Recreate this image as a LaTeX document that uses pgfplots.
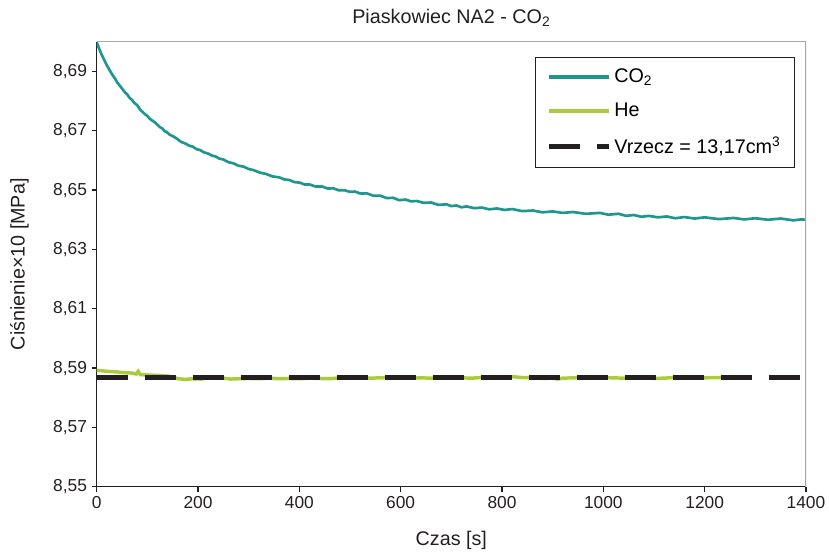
\documentclass[border=0pt]{standalone}
\usepackage{pgfplots}
\pgfplotsset{compat=1.18}
\usepackage{fontspec}
\setmainfont{Liberation Sans}
\definecolor{co2c}{HTML}{1F978E}
\definecolor{hec}{HTML}{A9CC3C}
\definecolor{axc}{HTML}{231F20}
\begin{document}
\begin{tikzpicture}[x=1pt,y=1pt]
\useasboundingbox (-72.5,-49.7) rectangle (549.25,365.05);
\begin{axis}[
  at={(0,0)}, anchor=south west,
  scale only axis, width=532pt, height=333.75pt,
  xmin=0, xmax=1400, ymin=8.55, ymax=8.70,
  xtick={0,200,...,1400},
  ytick={8.55,8.57,8.59,8.61,8.63,8.65,8.67,8.69},
  axis x line*=bottom, axis y line*=left,
  axis line style={axc, line width=0.9pt},
  every outer x axis line/.append style={-}, every outer y axis line/.append style={-},
  tick align=outside, major tick length=3.75pt,
  tick style={axc, line width=0.9pt},
  font=\fontsize{14.8}{17}\selectfont,
  ticklabel style={font=\fontsize{13}{15}\selectfont, text=axc},
  /pgf/number format/assume math mode=true,
  yticklabel style={/pgf/number format/.cd, fixed, fixed zerofill, precision=2, use comma},
  xticklabel style={/pgf/number format/1000 sep={}},
  title={Piaskowiec NA2 - CO\textsubscript{2}},
  every axis title/.style={at={(axis description cs:0.5,1)}, anchor=center, yshift=17.8pt, text=axc, font=\fontsize{14.8}{17}\selectfont},
  xlabel={Czas [s]}, ylabel={Ciśnienie×10 [MPa]},
  every axis y label/.style={at={(axis description cs:0,0.5)}, rotate=90, anchor=center, yshift=58pt, text=axc, font=\fontsize{14.8}{17}\selectfont},
  every axis x label/.style={at={(axis description cs:0.5,0)}, anchor=center, yshift=-40pt, text=axc, font=\fontsize{14.8}{17}\selectfont},
  legend style={at={(axis description cs:1,1)}, anchor=north east, xshift=-8.25pt, yshift=-11.25pt,
    draw=axc, line width=0.6pt, inner xsep=8.6pt, inner ysep=7pt,
    font=\fontsize{14.8}{17}\selectfont, row sep=9.8pt,
    /tikz/every even column/.append style={column sep=5pt}},
  legend cell align=left,
  legend image code/.code={\draw[#1] (0pt,0pt) -- (45pt,0pt);},
  clip=true,
]
\addplot[co2c, line width=2pt, legend image post style={line width=2.3pt}] coordinates {
(0,8.6998)(3,8.6985)(6,8.6972)(10,8.6956)(15,8.6938)(20,8.6921)(26,8.6903)(32,8.6886)(37,8.6874)(40,8.6864)(46,8.6851)(52,8.6838)(56,8.6829)(60,8.6823)(65,8.6811)(70,8.6803)(75,8.6793)(80,8.6786)(86,8.6771)(92,8.6761)(96,8.6755)(100,8.6750)(105,8.6740)(110,8.6734)(115,8.6728)(120,8.6720)(125,8.6712)(130,8.6707)(134,8.6699)(138,8.6696)(144,8.6687)(150,8.6682)(155,8.6677)(160,8.6671)(167,8.6662)(175,8.6657)(182,8.6650)(190,8.6646)(197,8.6638)(204,8.6635)(212,8.6627)(220,8.6623)(228,8.6616)(235,8.6613)(242,8.6606)(250,8.6603)(260,8.6594)(270,8.6590)(280,8.6582)(290,8.6579)(300,8.6571)(310,8.6567)(322,8.6559)(335,8.6554)(347,8.6546)(360,8.6543)(370,8.6536)(380,8.6534)(390,8.6527)(401,8.6525)(410,8.6519)(420,8.6519)(432,8.6512)(445,8.6512)(456,8.6505)(467,8.6506)(478,8.6499)(490,8.6499)(500,8.6494)(510,8.6495)(521,8.6488)(533,8.6489)(546,8.6481)(560,8.6481)(572,8.6473)(585,8.6474)(597,8.6466)(610,8.6468)(620,8.6462)(632,8.6463)(645,8.6457)(660,8.6458)(675,8.6450)(690,8.6452)(700,8.6446)(710,8.6448)(720,8.6442)(730,8.6445)(745,8.6439)(760,8.6441)(775,8.6435)(790,8.6438)(805,8.6433)(820,8.6436)(840,8.6429)(861,8.6431)(880,8.6425)(900,8.6428)(920,8.6423)(940,8.6426)(965,8.6420)(993,8.6423)(1010,8.6417)(1030,8.6420)(1045,8.6413)(1060,8.6416)(1075,8.6410)(1090,8.6413)(1108,8.6408)(1125,8.6411)(1142,8.6405)(1160,8.6409)(1180,8.6404)(1200,8.6408)(1228,8.6402)(1257,8.6406)(1278,8.6401)(1300,8.6405)(1325,8.6400)(1350,8.6404)(1375,8.6398)(1390,8.6401)(1400,8.6400)
};
\addlegendentry{CO\textsubscript{2}}
\addplot[hec, line width=2.6pt, legend image post style={line width=3pt}] coordinates {
(0,8.5892)(10,8.5891)(20,8.5889)(30,8.5888)(40,8.5887)(50,8.5885)(60,8.5884)(70,8.5883)(78,8.5880)(82,8.5889)(86,8.5878)(95,8.5877)(110,8.5876)(125,8.5875)(140,8.5873)(150,8.5870)(160,8.5864)(175,8.5862)(190,8.5864)(205,8.5863)(220,8.5867)(235,8.5868)(250,8.5866)(265,8.5863)(280,8.5864)(300,8.5865)(320,8.5864)(340,8.5866)(360,8.5864)(380,8.5865)(400,8.5864)(420,8.5866)(440,8.5865)(460,8.5864)(480,8.5867)(500,8.5866)(520,8.5867)(540,8.5866)(560,8.5867)(580,8.5868)(600,8.5866)(620,8.5866)(640,8.5867)(660,8.5866)(680,8.5867)(700,8.5868)(720,8.5867)(740,8.5866)(760,8.5868)(780,8.5870)(800,8.5868)(820,8.5871)(840,8.5868)(860,8.5867)(880,8.5865)(900,8.5866)(910,8.5863)(920,8.5866)(940,8.5867)(960,8.5868)(980,8.5867)(1000,8.5868)(1020,8.5867)(1040,8.5866)(1060,8.5868)(1080,8.5867)(1100,8.5865)(1120,8.5866)(1140,8.5868)(1160,8.5867)(1180,8.5866)(1200,8.5867)(1220,8.5868)(1240,8.5867)
};
\addlegendentry{He}
\addplot[axc, line width=3.75pt, dash pattern=on 23.25pt off 12.75pt] coordinates {(0,8.5868)(1390,8.5868)};
\addlegendentry{Vrzecz = 13,17cm\textsuperscript{3}}
\draw[gray!70, line width=0.9pt] (rel axis cs:0,1) -- (rel axis cs:1,1) -- (rel axis cs:1,0);
\end{axis}
\end{tikzpicture}
\end{document}
